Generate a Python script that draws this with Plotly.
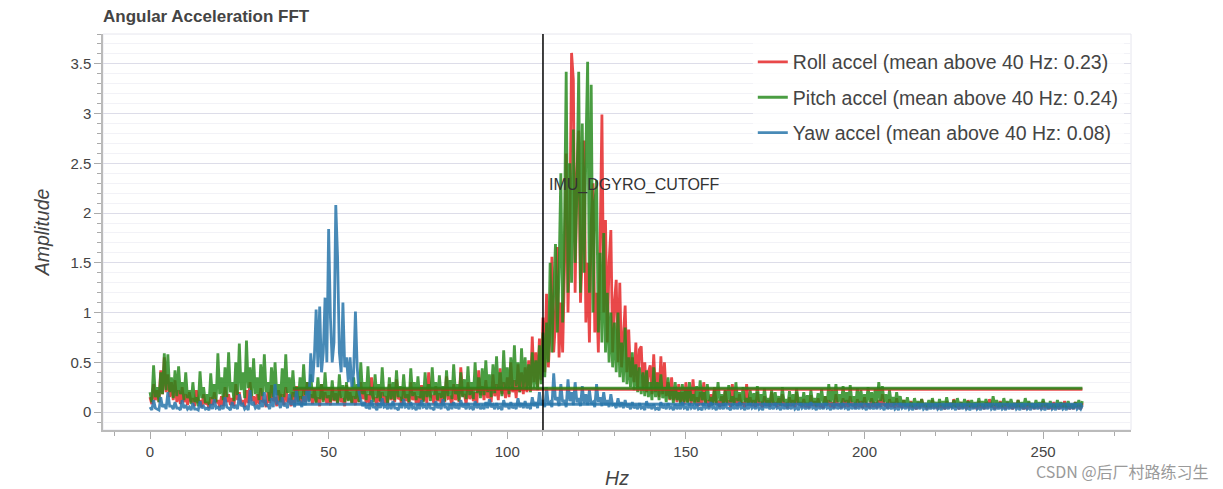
import plotly.graph_objects as go

# ---------------- data (0.5 Hz bins, 0 .. 261 Hz) ----------------
freq_step_hz = 0.5

roll_accel = [
    0.15,0.08,0.28,0.12,0.22,0.10,0.42,0.18,0.55,0.20,0.38,0.15,0.30,0.12,0.32,0.10,0.22,0.08,0.25,0.10,
    0.18,0.07,0.20,0.10,0.14,0.06,0.22,0.09,0.12,0.05,0.18,0.08,0.10,0.04,0.15,0.07,0.20,0.09,0.12,0.05,
    0.16,0.06,0.25,0.10,0.18,0.07,0.14,0.06,0.28,0.12,0.20,0.08,0.12,0.05,0.22,0.09,0.30,0.11,0.16,0.07,
    0.18,0.08,0.24,0.10,0.12,0.05,0.20,0.09,0.27,0.11,0.15,0.06,0.22,0.10,0.18,0.07,0.25,0.10,0.14,0.06,
    0.20,0.09,0.26,0.11,0.16,0.07,0.22,0.10,0.30,0.12,0.18,0.08,0.24,0.10,0.15,0.06,0.28,0.12,0.20,0.08,
    0.17,0.07,0.25,0.11,0.19,0.08,0.23,0.10,0.14,0.06,0.27,0.12,0.20,0.09,0.16,0.07,0.24,0.10,0.30,0.13,
    0.22,0.09,0.18,0.08,0.35,0.14,0.14,0.06,0.24,0.10,0.20,0.09,0.16,0.07,0.28,0.12,0.22,0.10,0.33,0.13,
    0.15,0.07,0.25,0.11,0.18,0.08,0.30,0.12,0.20,0.09,0.16,0.07,0.27,0.11,0.21,0.09,0.40,0.15,0.17,0.08,
    0.26,0.11,0.19,0.08,0.24,0.10,0.36,0.14,0.15,0.07,0.28,0.12,0.22,0.10,0.45,0.16,0.18,0.08,0.30,0.13,
    0.24,0.11,0.20,0.09,0.42,0.17,0.26,0.12,0.32,0.14,0.22,0.10,0.38,0.16,0.28,0.12,0.44,0.18,0.30,0.14,
    0.35,0.15,0.50,0.20,0.32,0.14,0.48,0.20,0.40,0.18,0.45,0.20,0.52,0.22,0.76,0.30,0.60,0.25,0.74,0.32,
    0.95,0.40,1.19,0.45,0.80,1.56,0.60,0.90,1.66,0.55,1.10,0.60,1.40,2.60,1.00,1.80,3.61,3.34,1.20,2.40,
    2.83,1.10,1.60,2.73,0.90,1.50,0.70,1.90,2.30,0.80,1.20,0.60,1.70,2.99,1.00,1.93,0.70,1.50,1.83,0.60,
    1.10,1.33,0.50,1.30,0.45,0.80,1.07,0.40,0.83,0.35,0.55,0.30,0.70,0.25,0.63,0.66,0.22,0.50,0.20,0.40,
    0.47,0.18,0.58,0.20,0.40,0.15,0.56,0.18,0.50,0.16,0.30,0.12,0.35,0.12,0.25,0.10,0.28,0.10,0.20,0.08,
    0.30,0.10,0.22,0.08,0.33,0.10,0.15,0.06,0.20,0.07,0.30,0.10,0.12,0.05,0.18,0.07,0.25,0.09,0.10,0.05,
    0.16,0.06,0.22,0.08,0.12,0.05,0.28,0.09,0.14,0.06,0.18,0.07,0.10,0.05,0.28,0.09,0.15,0.06,0.12,0.05,
    0.20,0.07,0.09,0.05,0.16,0.06,0.12,0.05,0.20,0.07,0.10,0.05,0.14,0.06,0.18,0.06,0.08,0.04,0.15,0.06,
    0.12,0.05,0.20,0.07,0.10,0.05,0.13,0.05,0.09,0.04,0.17,0.06,0.11,0.05,0.14,0.05,0.08,0.04,0.16,0.06,
    0.12,0.05,0.10,0.04,0.18,0.06,0.09,0.04,0.14,0.05,0.12,0.05,0.16,0.06,0.08,0.04,0.13,0.05,0.11,0.04,
    0.15,0.05,0.09,0.04,0.14,0.05,0.10,0.04,0.12,0.05,0.18,0.06,0.08,0.04,0.13,0.05,0.10,0.04,0.14,0.05,
    0.09,0.04,0.12,0.05,0.08,0.04,0.11,0.04,0.07,0.03,0.10,0.04,0.13,0.05,0.07,0.03,0.09,0.04,0.12,0.04,
    0.08,0.03,0.10,0.04,0.07,0.03,0.11,0.04,0.09,0.04,0.13,0.05,0.07,0.03,0.10,0.04,0.08,0.03,0.12,0.04,
    0.09,0.04,0.07,0.03,0.11,0.04,0.08,0.03,0.10,0.04,0.13,0.05,0.07,0.03,0.09,0.04,0.11,0.04,0.08,0.03,
    0.10,0.04,0.07,0.03,0.09,0.04,0.12,0.04,0.08,0.03,0.06,0.03,0.10,0.04,0.08,0.03,0.09,0.04,0.07,0.03,
    0.11,0.04,0.08,0.03,0.06,0.03,0.10,0.04,0.07,0.03,0.09,0.04,0.11,0.04,0.06,0.03,0.08,0.03,0.10,0.04,
    0.07,0.03,0.09,
]

pitch_accel = [
    0.20,0.10,0.47,0.15,0.25,0.10,0.40,0.18,0.59,0.22,0.58,0.20,0.35,0.14,0.42,0.16,0.46,0.18,0.30,0.12,
    0.40,0.14,0.22,0.08,0.30,0.10,0.15,0.06,0.41,0.14,0.25,0.09,0.18,0.07,0.39,0.13,0.28,0.10,0.59,0.18,
    0.35,0.12,0.45,0.15,0.60,0.20,0.30,0.11,0.50,0.17,0.69,0.22,0.40,0.14,0.72,0.24,0.45,0.16,0.54,0.18,
    0.35,0.12,0.48,0.16,0.58,0.20,0.30,0.11,0.45,0.15,0.50,0.17,0.28,0.10,0.44,0.15,0.58,0.19,0.35,0.12,
    0.42,0.15,0.25,0.10,0.35,0.13,0.48,0.17,0.30,0.11,0.38,0.14,0.22,0.09,0.35,0.13,0.28,0.10,0.40,0.14,
    0.25,0.10,0.32,0.12,0.22,0.09,0.38,0.14,0.27,0.10,0.30,0.11,0.24,0.09,0.35,0.13,0.28,0.10,0.50,0.18,
    0.30,0.12,0.46,0.17,0.25,0.10,0.38,0.14,0.28,0.11,0.45,0.16,0.22,0.09,0.35,0.13,0.30,0.12,0.42,0.15,
    0.26,0.11,0.38,0.14,0.24,0.10,0.44,0.16,0.30,0.12,0.36,0.14,0.25,0.10,0.40,0.15,0.28,0.11,0.45,0.17,
    0.30,0.12,0.37,0.14,0.26,0.11,0.42,0.16,0.32,0.13,0.48,0.18,0.28,0.11,0.40,0.15,0.33,0.13,0.46,0.17,
    0.30,0.13,0.50,0.19,0.35,0.14,0.44,0.17,0.52,0.20,0.38,0.15,0.48,0.19,0.56,0.22,0.40,0.16,0.62,0.24,
    0.45,0.18,0.55,0.22,0.67,0.26,0.50,0.20,0.64,0.25,0.55,0.22,0.48,0.20,0.60,0.24,0.52,0.22,0.67,0.28,
    0.80,0.35,0.90,0.50,1.50,0.60,1.20,1.69,0.80,1.40,2.40,0.90,1.80,3.42,1.20,2.50,1.30,2.84,1.50,2.20,
    3.42,1.20,2.90,1.40,2.60,3.52,1.20,3.29,1.00,2.10,2.33,0.80,1.60,0.70,1.80,0.60,1.20,0.50,1.00,0.45,
    0.90,0.40,1.00,0.35,0.70,0.30,0.85,0.28,0.55,0.25,0.60,0.22,0.48,0.20,0.45,0.18,0.40,0.16,0.42,0.15,
    0.30,0.12,0.45,0.15,0.30,0.12,0.38,0.14,0.25,0.10,0.35,0.13,0.22,0.09,0.30,0.12,0.20,0.08,0.28,0.10,
    0.22,0.09,0.30,0.11,0.18,0.08,0.26,0.10,0.32,0.12,0.20,0.08,0.28,0.11,0.15,0.07,0.24,0.09,0.30,0.11,
    0.18,0.08,0.22,0.09,0.27,0.10,0.16,0.07,0.30,0.11,0.20,0.08,0.25,0.10,0.14,0.07,0.22,0.09,0.19,0.08,
    0.26,0.10,0.18,0.08,0.24,0.09,0.14,0.07,0.22,0.09,0.20,0.08,0.16,0.07,0.25,0.10,0.13,0.06,0.21,0.09,
    0.18,0.08,0.24,0.09,0.15,0.07,0.20,0.08,0.17,0.07,0.22,0.09,0.14,0.06,0.19,0.08,0.23,0.09,0.16,0.07,
    0.28,0.10,0.22,0.09,0.28,0.10,0.18,0.08,0.26,0.10,0.20,0.08,0.27,0.10,0.16,0.07,0.24,0.09,0.22,0.09,
    0.18,0.08,0.25,0.10,0.20,0.08,0.23,0.09,0.30,0.11,0.26,0.10,0.18,0.08,0.22,0.09,0.15,0.07,0.20,0.08,
    0.16,0.07,0.12,0.06,0.15,0.06,0.10,0.05,0.14,0.06,0.11,0.05,0.13,0.06,0.09,0.05,0.12,0.05,0.14,0.06,
    0.10,0.05,0.13,0.06,0.11,0.05,0.15,0.06,0.09,0.05,0.12,0.05,0.14,0.06,0.10,0.05,0.13,0.06,0.11,0.05,
    0.12,0.05,0.10,0.05,0.14,0.06,0.11,0.05,0.13,0.06,0.09,0.05,0.16,0.06,0.12,0.05,0.10,0.05,0.14,0.06,
    0.11,0.05,0.13,0.06,0.09,0.05,0.12,0.05,0.10,0.05,0.14,0.06,0.11,0.05,0.09,0.04,0.12,0.05,0.10,0.05,
    0.13,0.06,0.09,0.04,0.11,0.05,0.08,0.04,0.12,0.05,0.10,0.05,0.09,0.04,0.11,0.05,0.08,0.04,0.10,0.05,
    0.12,0.05,0.11,
]

yaw_accel = [
    0.05,0.02,0.12,0.04,0.03,0.02,0.15,0.05,0.08,0.03,0.20,0.06,0.06,0.03,0.10,0.04,0.04,0.02,0.12,0.04,
    0.07,0.03,0.05,0.02,0.09,0.03,0.03,0.02,0.11,0.04,0.06,0.03,0.04,0.02,0.08,0.03,0.13,0.04,0.05,0.02,
    0.07,0.03,0.15,0.05,0.04,0.02,0.10,0.04,0.06,0.03,0.18,0.06,0.08,0.03,0.05,0.02,0.22,0.07,0.09,0.04,
    0.06,0.03,0.12,0.05,0.20,0.07,0.07,0.03,0.14,0.05,0.28,0.09,0.10,0.04,0.15,0.06,0.08,0.04,0.18,0.07,
    0.12,0.05,0.22,0.08,0.10,0.05,0.16,0.07,0.25,0.10,0.59,0.30,0.55,1.03,0.45,1.06,0.40,0.60,1.15,0.50,
    1.84,0.95,0.50,0.70,2.08,1.56,0.60,0.40,1.10,0.45,0.55,0.30,0.55,0.25,0.40,1.01,0.45,0.20,0.12,0.06,
    0.10,0.04,0.06,0.03,0.12,0.05,0.05,0.02,0.09,0.04,0.14,0.05,0.06,0.03,0.08,0.03,0.11,0.04,0.04,0.02,
    0.09,0.04,0.13,0.05,0.06,0.03,0.10,0.04,0.05,0.02,0.08,0.03,0.12,0.05,0.06,0.03,0.09,0.04,0.04,0.02,
    0.11,0.04,0.07,0.03,0.13,0.05,0.05,0.02,0.08,0.03,0.10,0.04,0.06,0.03,0.12,0.05,0.07,0.03,0.09,0.04,
    0.05,0.02,0.11,0.04,0.08,0.03,0.06,0.03,0.10,0.04,0.13,0.05,0.07,0.03,0.09,0.04,0.05,0.02,0.12,0.05,
    0.08,0.03,0.10,0.04,0.06,0.03,0.14,0.05,0.09,0.04,0.11,0.04,0.07,0.03,0.15,0.06,0.10,0.04,0.20,0.07,
    0.12,0.05,0.25,0.08,0.10,0.05,0.39,0.12,0.15,0.06,0.28,0.10,0.12,0.05,0.33,0.11,0.20,0.07,0.30,0.10,
    0.14,0.06,0.26,0.09,0.18,0.07,0.22,0.08,0.10,0.05,0.28,0.10,0.15,0.06,0.20,0.07,0.12,0.05,0.18,0.07,
    0.08,0.04,0.14,0.05,0.10,0.04,0.12,0.05,0.07,0.03,0.10,0.04,0.06,0.03,0.09,0.04,0.05,0.02,0.11,0.04,
    0.07,0.03,0.08,0.03,0.04,0.02,0.10,0.04,0.06,0.03,0.09,0.04,0.05,0.02,0.08,0.03,0.07,0.03,0.10,0.04,
    0.05,0.02,0.09,0.04,0.06,0.03,0.08,0.03,0.04,0.02,0.09,0.04,0.06,0.03,0.10,0.04,0.05,0.02,0.08,0.03,
    0.07,0.03,0.09,0.04,0.04,0.02,0.08,0.03,0.06,0.03,0.10,0.04,0.05,0.02,0.07,0.03,0.09,0.04,0.06,0.03,
    0.08,0.03,0.05,0.02,0.09,0.04,0.07,0.03,0.06,0.03,0.09,0.04,0.05,0.02,0.08,0.03,0.07,0.03,0.06,0.03,
    0.08,0.03,0.05,0.02,0.09,0.04,0.06,0.03,0.07,0.03,0.10,0.04,0.05,0.02,0.08,0.03,0.06,0.03,0.09,0.04,
    0.05,0.02,0.07,0.03,0.08,0.03,0.06,0.03,0.09,0.04,0.05,0.02,0.08,0.03,0.07,0.03,0.06,0.03,0.09,0.04,
    0.05,0.02,0.08,0.03,0.06,0.03,0.07,0.03,0.09,0.04,0.05,0.02,0.08,0.03,0.06,0.03,0.07,0.03,0.05,0.02,
    0.09,0.04,0.06,0.03,0.08,0.03,0.05,0.02,0.07,0.03,0.06,0.03,0.08,0.03,0.05,0.02,0.07,0.03,0.06,0.03,
    0.08,0.03,0.05,0.02,0.07,0.03,0.06,0.03,0.09,0.04,0.05,0.02,0.07,0.03,0.06,0.03,0.08,0.03,0.05,0.02,
    0.06,0.03,0.08,0.03,0.05,0.02,0.07,0.03,0.06,0.03,0.08,0.03,0.05,0.02,0.07,0.03,0.06,0.03,0.05,0.02,
    0.07,0.03,0.06,0.03,0.08,0.03,0.05,0.02,0.07,0.03,0.06,0.03,0.05,0.02,0.08,0.03,0.06,0.03,0.07,0.03,
    0.05,0.02,0.06,0.03,0.08,0.03,0.05,0.02,0.07,0.03,0.06,0.03,0.05,0.02,0.07,0.03,0.06,0.03,0.08,0.03,
    0.05,0.03,0.07,
]

series_names = ["Roll accel", "Pitch accel", "Yaw accel"]
series_means = [0.23, 0.24, 0.08]
mean_from_hz = 40
cutoff_hz = 110
cutoff_label = "IMU_DGYRO_CUTOFF"
cutoff_label_y = 2.28

# ---------------- styling ----------------
FONT = "Liberation Sans, Arial, Helvetica"
colors = ["rgba(228,26,28,0.8)", "rgba(34,135,25,0.82)", "rgba(40,118,170,0.85)"]
series_values = [roll_accel, pitch_accel, yaw_accel]

fig = go.Figure()
for name, vals, mean, col in zip(series_names, series_values, series_means, colors):
    x = [i * freq_step_hz for i in range(len(vals))]
    fig.add_trace(go.Scatter(
        x=x, y=vals, mode="lines",
        name=f"{name} (mean above {mean_from_hz} Hz: {mean:.2f})",
        legendgroup=name,
        line=dict(color=col, width=2.8),
        hoverinfo="skip",
    ))

for name, vals, mean, col in zip(series_names, series_values, series_means, colors):
    x_end = (len(vals) - 1) * freq_step_hz
    fig.add_trace(go.Scatter(
        x=[mean_from_hz, x_end], y=[mean, mean], mode="lines",
        showlegend=False, legendgroup=name,
        line=dict(color=col, width=3),
        hoverinfo="skip",
    ))

fig.add_shape(type="line", xref="x", yref="paper", x0=cutoff_hz, x1=cutoff_hz,
              y0=0, y1=1, line=dict(color="black", width=1.5), layer="above")
fig.add_annotation(x=cutoff_hz, y=cutoff_label_y, xref="x", yref="y",
                   text=cutoff_label, showarrow=False, xanchor="left", yanchor="middle",
                   xshift=4, font=dict(family=FONT, size=16, color="#333"))

fig.add_annotation(xref="paper", yref="paper", x=1.078, y=-0.104, xanchor="right", yanchor="middle",
                   text="CSDN @后厂村路练习生", showarrow=False,
                   font=dict(family="Noto Sans CJK SC", size=16, color="#9a9a9a"))

axis_font = dict(family=FONT, size=15, color="#444")
title_font = dict(family=FONT, size=19.5, color="#444")
fig.update_layout(
    width=1223, height=489,
    margin=dict(l=95, r=100, t=26, b=67),
    paper_bgcolor="white", plot_bgcolor="white",
    title=dict(text="<b>Angular Acceleration FFT</b>", x=0, xref="paper", xanchor="left",
               yref="container", y=0.984, yanchor="middle",
               font=dict(family=FONT, size=17, color="#444")),
    showlegend=True,
    legend=dict(x=0.993, y=0.978, xanchor="right", yanchor="top",
                bgcolor="rgba(255,255,255,0.75)", borderwidth=0,
                font=dict(family=FONT, size=19.5, color="#444"),
                tracegroupgap=7, itemwidth=30),
    xaxis=dict(range=[-13.16, 274.6], tickmode="linear", tick0=0, dtick=50,
               ticks="outside", ticklen=7, tickcolor="#aaa", showgrid=False, zeroline=False,
               showline=True, linecolor="#bbb", linewidth=1.5, automargin=False,
               minor=dict(dtick=10, ticks="outside", ticklen=4, tickcolor="#aaa", showgrid=False),
               tickfont=axis_font,
               title=dict(text="<i>Hz</i>", font=title_font, standoff=13)),
    yaxis=dict(range=[-0.18, 3.80], tickmode="linear", tick0=0, dtick=0.5,
               ticks="outside", ticklen=7, tickcolor="#aaa", showgrid=True, gridcolor="#dddde9",
               gridwidth=1.2, zeroline=False, automargin=False,
               showline=True, linecolor="#bbb", linewidth=1.5,
               minor=dict(dtick=0.1, ticks="outside", ticklen=4, tickcolor="#aaa",
                          showgrid=True, gridcolor="#f2f2f7", gridwidth=1),
               tickfont=axis_font,
               title=dict(text="<i>Amplitude</i>", font=title_font, standoff=16)),
)

fig.add_shape(type="rect", xref="paper", yref="paper", x0=0, x1=1, y0=0, y1=1,
              line=dict(color="#e6e6ee", width=1), layer="below")

fig.write_html("out.html")
